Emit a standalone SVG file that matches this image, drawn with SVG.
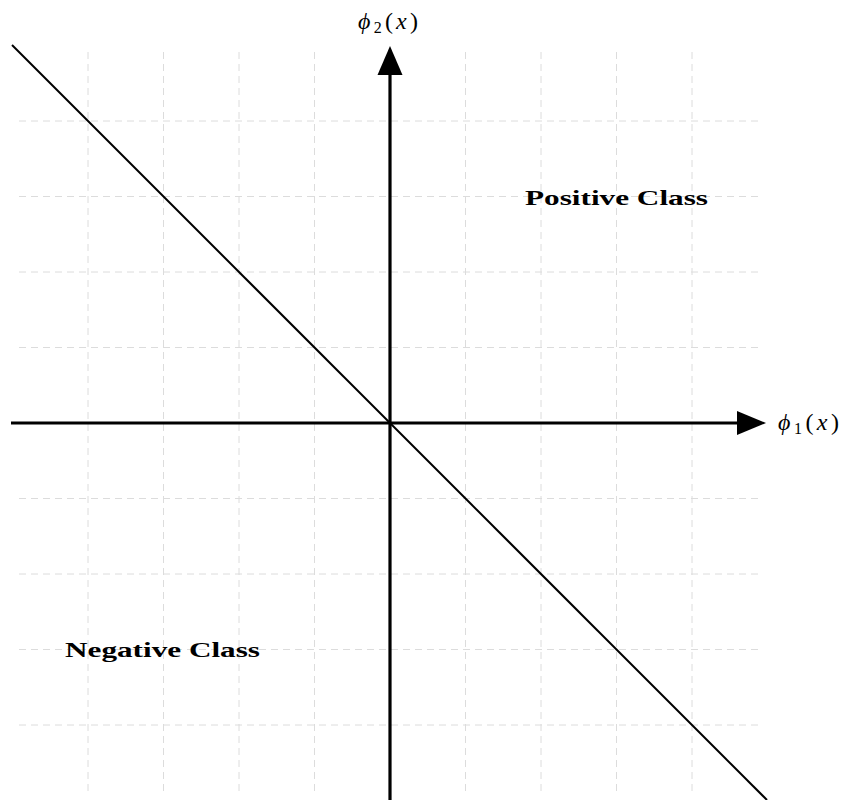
<svg xmlns="http://www.w3.org/2000/svg" width="843" height="800" viewBox="0 0 843 800">
<style>
.grid line{stroke:#dcdcdc;stroke-width:1;stroke-dasharray:7 5;}
.axis{stroke:#000;stroke-width:3.2;fill:none;}
.lbl{font-family:"Liberation Serif","DejaVu Serif",serif;font-size:24px;fill:#000;}
.cls{font-family:"Liberation Serif","DejaVu Serif",serif;font-size:22px;font-weight:bold;fill:#000;}
</style>
<rect width="843" height="800" fill="#fff"/>
<g class="grid" id="grid">
<line x1="19" y1="121" x2="760" y2="121"/>
<line x1="19" y1="196.5" x2="760" y2="196.5"/>
<line x1="19" y1="272" x2="760" y2="272"/>
<line x1="19" y1="347.5" x2="760" y2="347.5"/>
<line x1="19" y1="498.5" x2="760" y2="498.5"/>
<line x1="19" y1="574" x2="760" y2="574"/>
<line x1="19" y1="649.5" x2="760" y2="649.5"/>
<line x1="19" y1="725" x2="760" y2="725"/>
<line x1="88" y1="52" x2="88" y2="793"/>
<line x1="163.5" y1="52" x2="163.5" y2="793"/>
<line x1="239" y1="52" x2="239" y2="793"/>
<line x1="314.5" y1="52" x2="314.5" y2="793"/>
<line x1="465.5" y1="52" x2="465.5" y2="793"/>
<line x1="541" y1="52" x2="541" y2="793"/>
<line x1="616.5" y1="52" x2="616.5" y2="793"/>
<line x1="692" y1="52" x2="692" y2="793"/>
</g>
<g id="connectors">
<line x1="12" y1="45" x2="767" y2="800" stroke="#000" stroke-width="2"/>
</g>
<g id="x-axis">
<line class="axis" x1="11" y1="423" x2="740" y2="423"/>
<polygon points="737,411 766,423 737,435" fill="#000"/>
<text class="lbl" x="778" y="430" textLength="61" lengthAdjust="spacing"><tspan font-style="italic">ϕ</tspan><tspan font-size="16" dy="4">1</tspan><tspan dy="-4">(</tspan><tspan font-style="italic">x</tspan>)</text>
</g>
<g id="y-axis">
<line class="axis" x1="390" y1="800" x2="390" y2="72"/>
<polygon points="377.5,75 390,46 402.5,75" fill="#000"/>
<text class="lbl" x="358" y="29" textLength="60" lengthAdjust="spacing"><tspan font-style="italic">ϕ</tspan><tspan font-size="16" dy="4">2</tspan><tspan dy="-4">(</tspan><tspan font-style="italic">x</tspan>)</text>
</g>
<g id="positive">
<text class="cls" x="616.5" y="204.5" text-anchor="middle" textLength="183" lengthAdjust="spacingAndGlyphs">Positive Class</text>
</g>
<g id="negative">
<text class="cls" x="162.5" y="656.5" text-anchor="middle" textLength="195" lengthAdjust="spacingAndGlyphs">Negative Class</text>
</g>
</svg>
